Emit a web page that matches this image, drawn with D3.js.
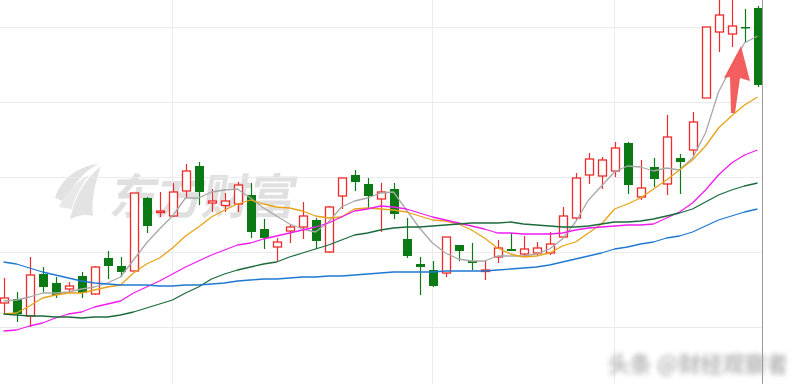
<!DOCTYPE html>
<html>
<head>
<meta charset="utf-8">
<script src="https://cdn.jsdelivr.net/npm/d3@7/dist/d3.min.js"></script>
<style>
  html, body { margin: 0; padding: 0; background: #fff; }
  svg { display: block; }
</style>
</head>
<body>
<svg id="chart" width="796" height="384"></svg>
<script>
// ---- data (price units; no axis labels in the original) ----
const days = d3.range(59).map(i => "D" + (i + 1));
const open  = [9.9,10.3,8.6,12.8,11.9,11.3,12.6,10.8,14.4,13.6,13.1,20.4,19.05,18.6,21.1,23.6,19.9,19.65,19.8,20.7,17.3,15.5,17.1,17.5,18.2,15.0,20.6,22.7,21.8,20.3,21.3,16.3,13.8,13.2,12.9,15.7,14.1,13.1,14.5,15.3,14.8,14.9,14.9,16.5,18.4,22.7,22.6,23.1,25.9,20.5,23.5,21.8,24.4,25.2,30.4,37.0,36.8,37.5,39.4];
const close = [10.4,8.8,12.7,11.5,10.7,11.6,10.9,13.5,13.6,13.0,20.9,17.6,19.1,21.0,23.1,21.0,20.1,20.1,21.7,17.0,16.4,16.0,17.5,18.6,16.1,19.5,22.4,22.0,20.6,21.0,18.8,14.6,13.5,11.6,16.5,15.1,13.9,13.2,15.4,15.1,15.3,15.4,15.8,18.6,22.4,24.3,24.2,25.4,21.7,21.4,22.3,26.5,24.0,28.0,37.5,38.7,37.6,37.4,31.7];
const high  = [12.4,11.0,14.5,13.5,12.5,12.0,13.0,13.6,15.1,14.5,20.9,20.5,21.0,21.9,23.8,24.0,21.3,20.9,22.0,21.9,18.3,16.4,17.7,20.0,18.4,19.6,22.4,23.2,22.4,21.9,21.9,18.4,14.5,14.1,16.5,15.7,15.9,14.1,16.2,16.9,16.6,16.0,17.0,19.5,22.9,24.9,24.5,26.0,26.0,24.2,24.4,28.7,24.8,29.0,37.5,40.2,40.2,39.3,39.6];
const low   = [8.9,8.0,7.5,11.0,10.4,10.9,10.4,10.7,12.3,12.5,13.1,16.9,18.5,18.5,20.4,19.7,19.0,19.0,19.0,16.4,15.3,14.1,15.9,16.3,15.3,14.9,19.3,21.1,19.3,17.0,18.3,14.4,10.7,11.5,12.5,14.1,13.2,12.2,13.9,15.1,14.6,14.6,14.7,16.4,18.1,21.8,21.3,22.5,20.8,20.2,21.5,20.7,20.8,24.6,30.4,35.0,35.5,35.9,31.5];

const ma5   = [10.1,10.2,10.5,10.9,10.9,11.0,11.3,11.5,11.9,12.5,14.2,15.9,17.3,18.6,20.4,20.4,21.0,21.2,21.3,20.4,19.4,18.6,17.8,17.3,17.0,18.0,19.5,20.1,20.4,20.9,21.0,19.2,17.4,15.9,14.9,14.3,14.1,14.1,14.6,14.6,14.6,14.8,15.3,16.3,18.0,20.2,21.6,23.0,23.6,23.5,23.1,23.4,23.2,24.4,26.9,31.0,33.5,35.9,36.6];
const ma10  = [8.8,8.9,9.6,10.4,10.7,10.9,10.9,11.2,11.5,11.7,12.9,13.8,14.4,15.4,16.6,17.5,18.5,19.2,19.8,20.2,19.8,19.5,19.4,19.1,18.6,18.4,18.5,19.3,19.4,19.3,19.2,19.0,18.6,18.2,18.1,17.8,17.2,16.4,15.4,14.8,14.5,14.6,14.9,15.6,16.0,16.9,17.8,19.3,19.8,20.4,21.3,22.2,23.2,24.2,25.6,27.4,28.6,29.7,30.5];
const ma20  = [7.1,7.2,7.6,7.9,8.4,8.8,9.0,9.5,9.8,10.1,10.9,11.5,12.1,12.8,13.5,14.1,14.7,15.2,15.7,15.9,16.3,16.6,16.9,17.2,17.5,17.9,18.5,19.1,19.3,19.6,19.5,19.3,18.9,18.5,18.2,17.9,17.6,17.3,16.9,16.9,16.8,16.8,16.8,16.9,17.2,17.4,17.5,17.6,17.7,17.7,17.8,18.4,19.0,19.9,21.2,22.7,23.9,24.7,25.2];
const ma30  = [8.8,8.7,8.6,8.6,8.5,8.5,8.4,8.5,8.5,8.7,9.0,9.4,9.8,10.2,10.9,11.5,12.3,12.8,13.2,13.5,13.8,14.0,14.5,14.9,15.3,15.7,16.2,16.7,16.9,17.2,17.4,17.5,17.5,17.6,17.7,17.8,17.9,17.9,17.9,18.0,17.8,17.7,17.6,17.5,17.5,17.6,17.8,18.0,18.0,18.1,18.3,18.6,18.9,19.3,20.0,20.7,21.2,21.6,21.9];
const ma60  = [14.0,13.8,13.4,13.0,12.7,12.4,12.1,11.9,11.8,11.7,11.7,11.7,11.6,11.6,11.7,11.7,11.8,11.9,12.1,12.2,12.3,12.3,12.4,12.5,12.5,12.6,12.6,12.7,12.8,12.9,13.0,13.0,13.0,13.0,13.1,13.1,13.1,13.1,13.2,13.3,13.4,13.5,13.7,14.0,14.3,14.6,14.9,15.3,15.5,15.8,16.0,16.4,16.6,17.0,17.6,18.2,18.6,19.0,19.3];

const gridPrices = [7.5, 15, 22.5, 30, 37.5];
const monthStarts = [13, 33, 47];
const maSeries = [
  { name: "MA5",  values: ma5,  color: "#a8a8a8" },
  { name: "MA10", values: ma10, color: "#e8a317" },
  { name: "MA20", values: ma20, color: "#f01cf0" },
  { name: "MA30", values: ma30, color: "#1b6b3a" },
  { name: "MA60", values: ma60, color: "#1f78d1" }
];

// ---- layout ----
const W = 796, H = 384, plotRight = 762;
const svg = d3.select("#chart");
const x = d3.scalePoint().domain(d3.range(days.length)).range([3.5, 757.5]);
const y = d3.scaleLinear().domain([7.5, 37.5]).range([327, 27]);
const bodyW = 8;

svg.append("rect").attr("width", W).attr("height", H).attr("fill", "#fff");

const defs = svg.append("defs");
defs.append("clipPath").attr("id", "plotClip")
  .append("rect").attr("x", 0).attr("y", 0).attr("width", plotRight).attr("height", H);
defs.append("filter").attr("id", "blur").attr("x", "-10%").attr("y", "-50%").attr("width", "120%").attr("height", "200%")
  .append("feGaussianBlur").attr("stdDeviation", 2.6);

// watermark logo
const wm = svg.append("g").attr("opacity", 0.6);
wm.append("path")
  .attr("d", "M55,198 C60,180 78,166 98,164 C85,171 72,184 65,202 Z")
  .attr("fill", "#cfcfcf");
wm.append("path")
  .attr("d", "M70,220 C74,198 84,180 101,166 C95,184 91,200 93,216 C85,214 77,215 70,220 Z")
  .attr("fill", "#d2d2d2");
wm.append("path")
  .attr("d", "M59,207 C65,193 76,182 89,175 C81,186 75,197 72,209 Z")
  .attr("fill", "#d9d9d9");
wm.append("text")
  .attr("x", 108).attr("y", 214)
  .attr("transform", "skewX(-10) translate(38,0)")
  .attr("font-family", "'Noto Sans CJK SC', sans-serif")
  .attr("font-size", 48).attr("font-weight", 700)
  .attr("fill", "#cdcdcd")
  .attr("letter-spacing", -2)
  .text("东方财富");

// grid
const grid = svg.append("g");
grid.selectAll("line.h").data(gridPrices).join("line")
  .attr("x1", 0).attr("x2", plotRight)
  .attr("y1", d => Math.round(y(d)) + 0.5).attr("y2", d => Math.round(y(d)) + 0.5)
  .attr("stroke", "#ebebeb").attr("stroke-width", 1);
grid.selectAll("line.v").data(monthStarts).join("line")
  .attr("x1", d => Math.round(x(d)) - 0.5).attr("x2", d => Math.round(x(d)) - 0.5)
  .attr("y1", 0).attr("y2", H)
  .attr("stroke", "#ececec").attr("stroke-width", 1);

// candles
const plot = svg.append("g").attr("clip-path", "url(#plotClip)");
const candles = plot.selectAll("g.c").data(days.map((d, i) => i)).join("g");
candles.each(function(i) {
  const g = d3.select(this);
  const up = close[i] >= open[i];
  const col = up ? "#f02a2a" : "#0b7a14";
  const cx = Math.round(x(i)) + 0.5;
  const top = y(Math.max(open[i], close[i]));
  const bot = y(Math.min(open[i], close[i]));
  g.append("line")
    .attr("x1", cx).attr("x2", cx)
    .attr("y1", y(high[i])).attr("y2", top)
    .attr("stroke", col).attr("stroke-width", 1.2);
  g.append("line")
    .attr("x1", cx).attr("x2", cx)
    .attr("y1", bot).attr("y2", y(low[i]))
    .attr("stroke", col).attr("stroke-width", 1.2);
  const h = Math.max(bot - top, 1.5);
  if (up) {
    g.append("rect")
      .attr("x", cx - bodyW / 2).attr("y", top)
      .attr("width", bodyW).attr("height", h)
      .attr("fill", "#fff").attr("stroke", col).attr("stroke-width", 1.3);
  } else {
    g.append("rect")
      .attr("x", cx - bodyW / 2 - 0.5).attr("y", top)
      .attr("width", bodyW + 1).attr("height", h)
      .attr("fill", col);
  }
});

// moving averages
const line = d3.line().x((d, i) => x(i)).y(d => y(d));
plot.selectAll("path.ma").data(maSeries).join("path")
  .attr("d", s => line(s.values))
  .attr("fill", "none")
  .attr("stroke", s => s.color)
  .attr("stroke-width", 1.3)
  .attr("stroke-linejoin", "round");

// right frame
svg.append("line")
  .attr("x1", plotRight + 0.5).attr("x2", plotRight + 0.5)
  .attr("y1", 0).attr("y2", H)
  .attr("stroke", "#9a9a9a").attr("stroke-width", 1);

// red arrow annotation
svg.append("path")
  .attr("d", "M741,46 L750,81 L740,78 L735,113 L731,113 L730,77 L724,78 Z")
  .attr("fill", "#f25555").attr("opacity", 0.95);

// blurred corner watermark
const cw = svg.append("g").attr("filter", "url(#blur)").attr("opacity", 0.7);
cw.append("text")
  .attr("x", 608).attr("y", 372)
  .attr("font-family", "'Noto Sans CJK SC', sans-serif")
  .attr("font-size", 22).attr("font-weight", 700).attr("fill", "#9a9a9a")
  .attr("textLength", 180).attr("lengthAdjust", "spacingAndGlyphs")
  .text("头条 @财经观察者");
</script>
</body>
</html>
